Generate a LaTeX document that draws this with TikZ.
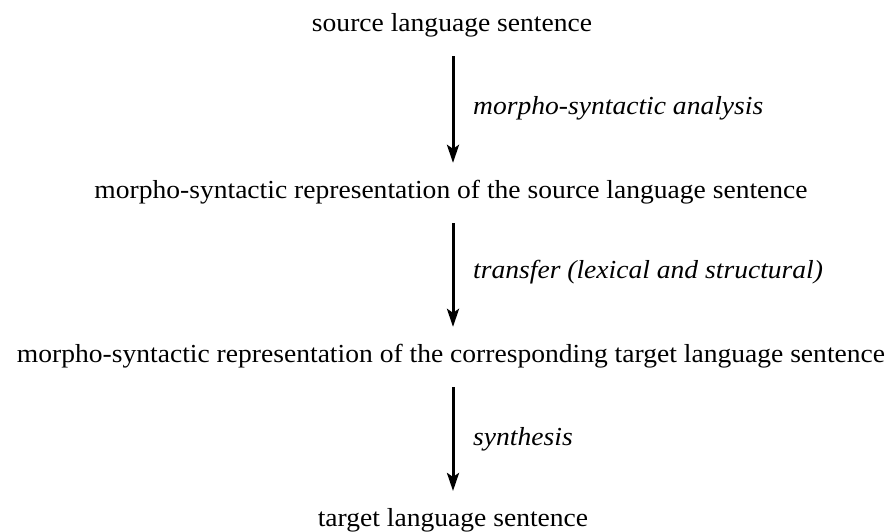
\documentclass[tikz,border=0pt]{standalone}
\usepackage{fontspec}
\setmainfont{Liberation Serif}[FakeStretch=1.06]
\usetikzlibrary{arrows.meta}
\begin{document}
\begin{tikzpicture}[x=1pt,y=-1pt,
  sent/.style={inner sep=0pt, font=\fontsize{26}{30}\selectfont},
  lbl/.style={inner sep=0pt, anchor=west, font=\fontsize{26}{30}\selectfont\itshape},
  flow/.style={line width=3pt, -{Stealth[length=18pt,width=12pt,inset=4pt]}}]
\useasboundingbox[fill=white] (0,0) rectangle (891,532);
\node[sent] (s1) at (452,25) {source language sentence};
\node[sent] (s2) at (451,192) {morpho-syntactic representation of the source language sentence};
\node[sent] (s3) at (451,356) {morpho-syntactic representation of the corresponding target language sentence};
\node[sent] (s4) at (453,520) {target language sentence};
\coordinate (ax) at (453,0);
\draw[flow] ([yshift=-19pt]s1.south -| ax) -- ([yshift=17pt]s2.north -| ax);
\draw[flow] ([yshift=-19pt]s2.south -| ax) -- ([yshift=17pt]s3.north -| ax);
\draw[flow] ([yshift=-19pt]s3.south -| ax) -- ([yshift=17pt]s4.north -| ax);
\node[lbl] (l1) at (473,108) {morpho-syntactic analysis};
\node[lbl] (l2) at (473,272) {transfer (lexical and structural)};
\node[lbl] (l3) at (473,439) {synthesis};
\end{tikzpicture}
\end{document}
